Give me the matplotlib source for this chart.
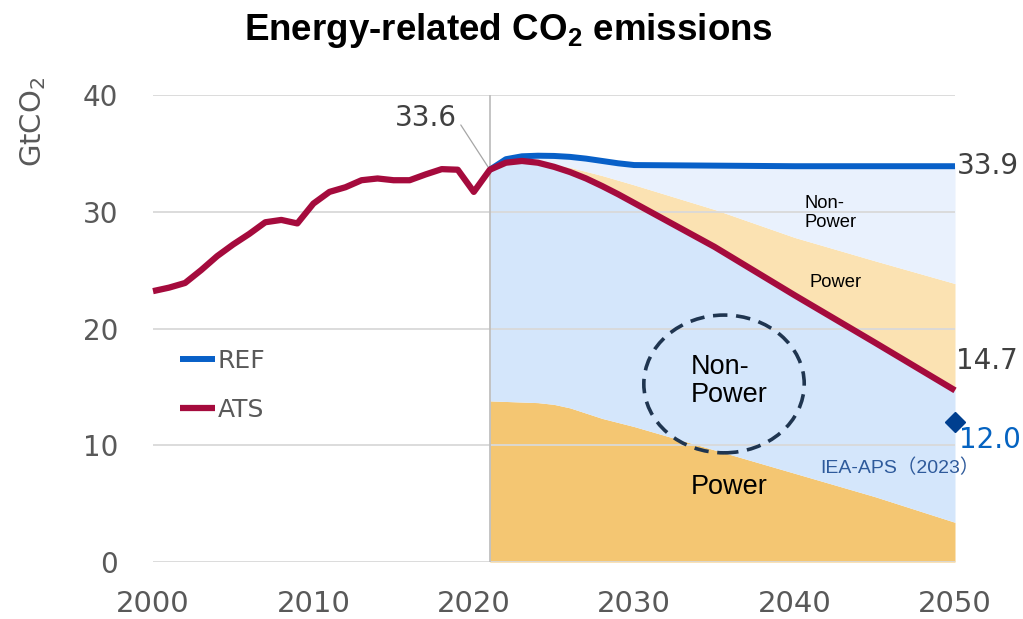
import numpy as np
import matplotlib
matplotlib.use("Agg")
from matplotlib import pyplot as plt
from matplotlib.patches import Ellipse

# historical + ATS path
ats_years = [2000, 2001, 2002, 2003, 2004, 2005, 2006, 2007, 2008, 2009, 2010,
             2011, 2012, 2013, 2014, 2015, 2016, 2017, 2018, 2019, 2020, 2021,
             2022, 2023, 2024, 2025, 2026, 2027, 2028, 2029, 2030,
             2035, 2040, 2045, 2050]
ats_vals = [23.2, 23.5, 23.9, 25.0, 26.2, 27.2, 28.1, 29.1, 29.3, 29.0, 30.7,
            31.7, 32.1, 32.7, 32.85, 32.7, 32.7, 33.2, 33.65, 33.6, 31.7, 33.6,
            34.2, 34.35, 34.2, 33.85, 33.4, 32.85, 32.2, 31.5, 30.75,
            27.0, 22.85, 18.8, 14.7]

# projections (2021-2050)
proj_years = [2021, 2022, 2023, 2024, 2025, 2026, 2027, 2028, 2029, 2030,
              2035, 2040, 2045, 2050]
ref_vals = [33.6, 34.5, 34.75, 34.8, 34.78, 34.7, 34.55, 34.35, 34.15, 34.0,
            33.95, 33.9, 33.9, 33.9]
ref_nonpower_top = [33.6, 34.2, 34.35, 34.25, 34.05, 33.8, 33.45, 33.1, 32.7, 32.3,
                    30.2, 27.8, 25.8, 23.85]
ats_power = [13.8, 13.75, 13.7, 13.65, 13.5, 13.2, 12.75, 12.3, 11.95, 11.6,
             9.6, 7.6, 5.6, 3.4]

iea_year, iea_val = 2050, 12.0

C_ATS = "#A50B3D"
C_REF = "#0860C8"
C_GRAY = "#595959"

fig = plt.figure(figsize=(10.23, 6.19), dpi=100)
ax = fig.add_axes([153 / 1023, 1 - 562 / 619, 802 / 1023, 467 / 619])

py = np.array(proj_years)
ats_proj = np.array(ats_vals[ats_years.index(2021):])

# stacked areas
ax.fill_between(py, 0, ats_power, color="#F4C672", lw=0)
ax.fill_between(py, ats_power, ats_proj, color="#D4E6FB", lw=0)
ax.fill_between(py, ats_proj, ref_nonpower_top, color="#FBE2B2", lw=0)
ax.fill_between(py, ref_nonpower_top, ref_vals, color="#E9F1FD", lw=0)

ax.axvline(2021, color="#BFBFBF", lw=1.3, zorder=1.6)

ax.plot(py, ref_vals, color=C_REF, lw=4.3, label="REF", zorder=3,
        solid_capstyle="butt", clip_on=False)
ax.plot(ats_years, ats_vals, color=C_ATS, lw=4.5, label="ATS", zorder=4,
        solid_capstyle="butt", clip_on=False)
ax.plot([iea_year], [iea_val], marker="D", ms=10, color="#003F8F", lw=0,
        zorder=5, clip_on=False)

ax.set_xlim(2000, 2050)
ax.set_ylim(0, 40)
ax.set_xticks(range(2000, 2051, 10))
ax.set_yticks(range(0, 41, 10))
ax.set_axisbelow("line")
ax.grid(axis="y", color="#D9D9D9", lw=1.3)
for s in ax.spines.values():
    s.set_visible(False)
ax.tick_params(length=0, colors=C_GRAY, labelsize=20)
ax.tick_params(axis="y", pad=25)
ax.tick_params(axis="x", pad=20, labelsize=21)

# dashed circle around the non-power label
ax.add_patch(Ellipse((2035.6, 15.25), 10.0, 11.8, fill=False, ec="#1F3550",
                     lw=2.6, ls=(0, (4, 2.4)), zorder=5))

af = ["Liberation Sans", "DejaVu Sans"]
ax.text(2035.95, 15.5, "Non-\nPower", ha="center", va="center", fontsize=19.5,
        family=af, linespacing=1.1, multialignment="left", zorder=6)
ax.text(2035.9, 6.43, "Power", ha="center", va="center", fontsize=19.5, family=af, zorder=6)
ax.text(2040.6, 29.9, "Non-\nPower", ha="left", va="center", fontsize=13.2,
        family=af, linespacing=1.1, zorder=6)
ax.text(2040.9, 23.95, "Power", ha="left", va="center", fontsize=13.2, family=af, zorder=6)
ax.annotate("IEA-APS（2023）", xy=(2050, 8.05), xytext=(18, 0), textcoords="offset points",
            ha="right", va="center", fontsize=14, color="#2E5A9B",
            family=["Liberation Sans", "Noto Sans CJK JP"], zorder=6,
            annotation_clip=False)

# value labels
ax.annotate("33.6", xy=(2021, 33.6), xytext=(-24, 37), textcoords="offset points",
            ha="right", va="center", fontsize=20, color="#404040",
            arrowprops=dict(arrowstyle="-", color="#A6A6A6", lw=0.9,
                            relpos=(1, 0.5), shrinkA=2, shrinkB=0))
ax.annotate("33.9", xy=(2050, ref_vals[-1]), xytext=(1, 0), textcoords="offset points",
            ha="left", va="center", fontsize=20, color="#404040", annotation_clip=False)
ax.annotate("14.7", xy=(2050, ats_vals[-1]), xytext=(1, 21), textcoords="offset points",
            ha="left", va="center", fontsize=20, color="#404040", annotation_clip=False)
ax.annotate("12.0", xy=(iea_year, iea_val), xytext=(3, -13), textcoords="offset points",
            ha="left", va="center", fontsize=20, color="#0563C1", annotation_clip=False)

ax.legend(loc="upper left", bbox_to_anchor=(0.0337, 0.457), frameon=False,
          fontsize=18, labelcolor=C_GRAY, handlelength=1.4, handletextpad=0.1,
          labelspacing=1.0, borderpad=0, borderaxespad=0)

fig.text(33 / 1023, 1 - 122 / 619, r"GtCO$_\mathregular{2}$", rotation=90,
         ha="center", va="center", fontsize=21, color=C_GRAY)
fig.text(0.4975, 1 - 30 / 619, r"Energy-related CO$_\mathregular{2}$ emissions",
         ha="center", va="center", fontsize=26.5, fontweight="bold",
         family="Liberation Sans")

fig.savefig("out.png", dpi=100)
